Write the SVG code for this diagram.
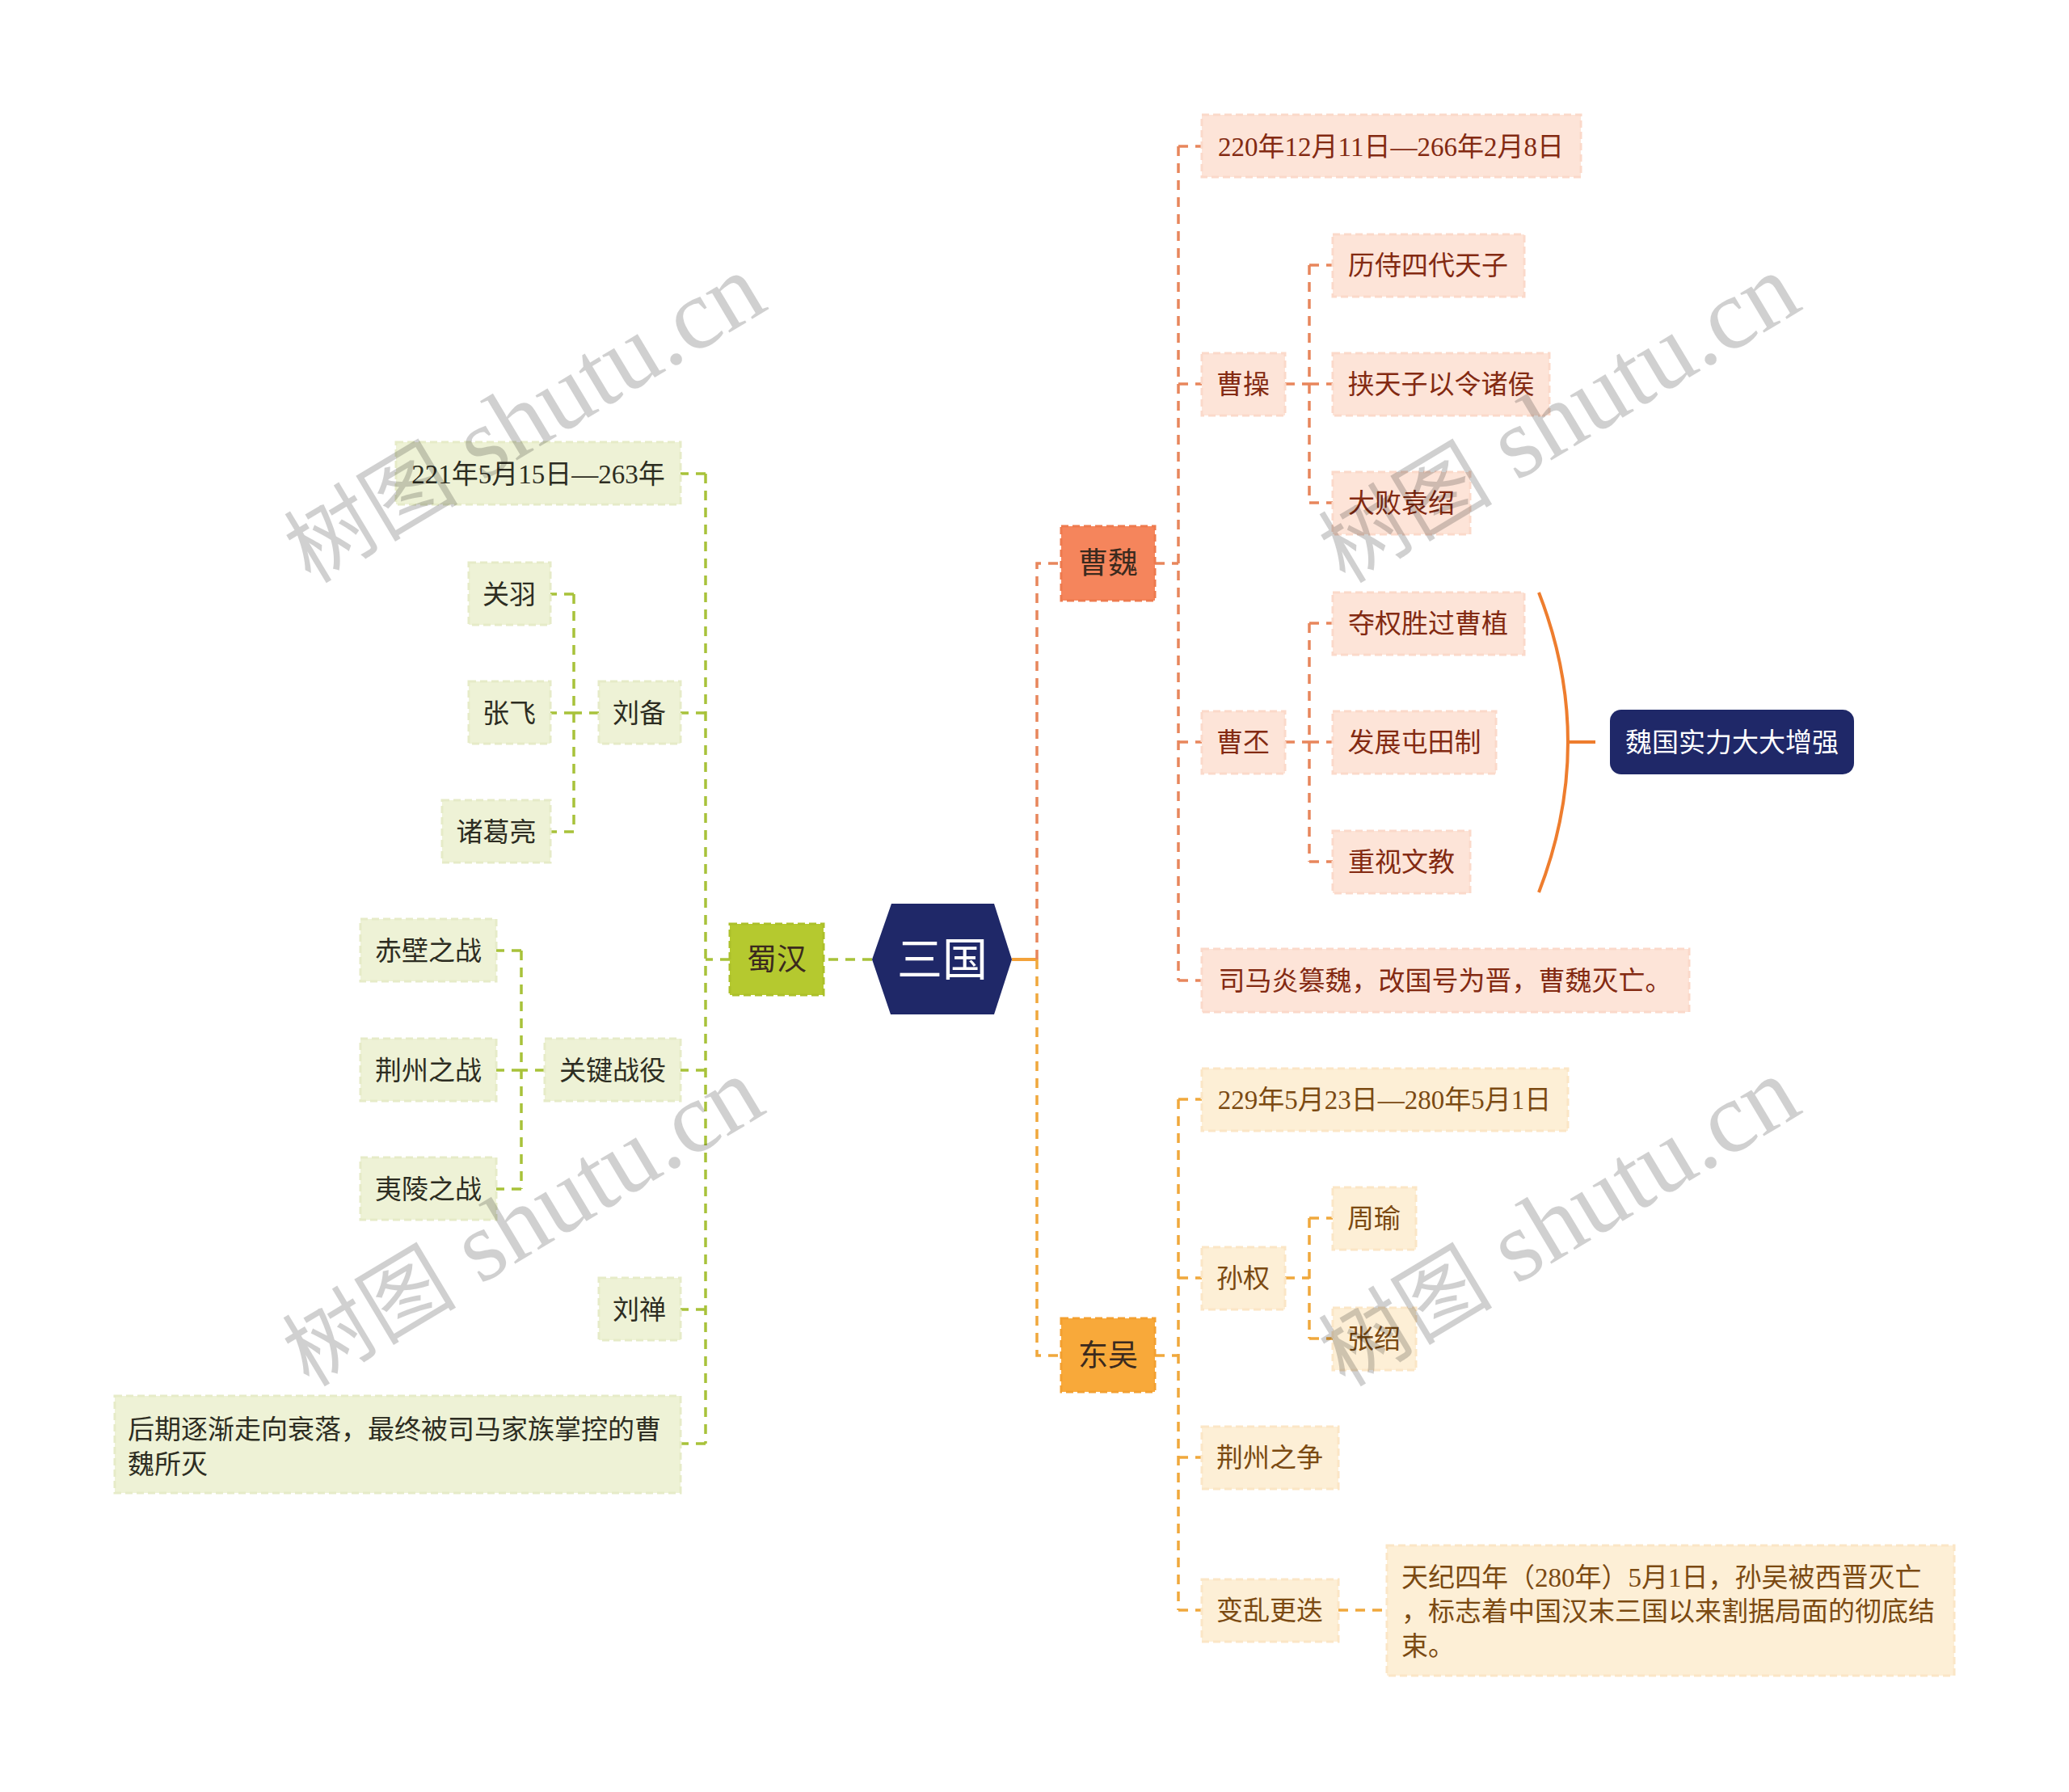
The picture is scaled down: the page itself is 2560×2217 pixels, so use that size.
<svg xmlns="http://www.w3.org/2000/svg" width="2560" height="2217" viewBox="0 0 2560 2217">
<style>
text{font-family:"Liberation Serif","Noto Sans CJK SC",sans-serif;font-size:33px}
.c{text-anchor:middle}
.wei rect{fill:#fde4d8;stroke:#fbd9ca;stroke-width:3;stroke-dasharray:9 5}
.wei text{fill:#832a12}
.wu rect{fill:#fdefd6;stroke:#fbe6c6;stroke-width:3;stroke-dasharray:9 5}
.wu text{fill:#7b4a12}
.shu rect{fill:#eef2d6;stroke:#e6ebc8;stroke-width:3;stroke-dasharray:9 5}
.shu text{fill:#2d2d22}
.l1 text{font-size:37px;fill:#3b2a1e}
.ln{fill:none;stroke-width:3.5;stroke-dasharray:12 9}
.wm{font-size:124px;fill:#000;opacity:0.18;text-anchor:middle}
</style>

<g id="connectors">
  <path d="M1252,1187 H1283" stroke="#f3a23a" stroke-width="4" fill="none"/>
  <path class="ln" stroke="#e8865c" d="M1283,1187 V697 H1313"/>
  <path class="ln" stroke="#f0a83c" d="M1283,1187 V1677 H1313"/>
  <path class="ln" stroke="#a8c23a" stroke-width="5" d="M1079,1187 H1019"/>
  <path class="ln" stroke="#e8865c" d="M1429,697 H1458 M1458,181 V1213 M1458,181 H1487 M1458,475 H1487 M1458,918 H1487 M1458,1213 H1487"/>
  <path class="ln" stroke="#e8865c" d="M1590,475 H1620 M1620,328 V622 M1620,328 H1649 M1620,475 H1649 M1620,622 H1649"/>
  <path class="ln" stroke="#e8865c" d="M1590,918 H1620 M1620,771 V1066 M1620,771 H1649 M1620,918 H1649 M1620,1066 H1649"/>
  <path d="M1904,733 Q1976,918 1904,1104 M1940,918 H1974" stroke="#ee7d2e" stroke-width="4" fill="none"/>
  <path class="ln" stroke="#f0a83c" d="M1429,1677 H1458 M1458,1360 V1992 M1458,1360 H1487 M1458,1581 H1487 M1458,1803 H1487 M1458,1992 H1487"/>
  <path class="ln" stroke="#f0a83c" d="M1590,1581 H1620 M1620,1507 V1656 M1620,1507 H1649 M1620,1656 H1649"/>
  <path class="ln" stroke="#f0a83c" d="M1656,1992 H1716"/>
  <path class="ln" stroke="#a8c23a" d="M903,1187 H873 M873,586 V1786 M873,586 H842 M873,882 H842 M873,1324 H842 M873,1620 H842 M873,1786 H842"/>
  <path class="ln" stroke="#a8c23a" d="M741,882 H710 M710,735 V1029 M710,735 H681 M710,882 H681 M710,1029 H681"/>
  <path class="ln" stroke="#a8c23a" d="M674,1324 H645 M645,1176 V1471 M645,1176 H614 M645,1324 H614 M645,1471 H614"/>
</g>

<g id="root">
  <polygon points="1103,1118 1230,1118 1252,1187 1230,1255 1102,1255 1079,1187" fill="#1f2868"/>
  <text class="c" x="1166" y="1207" style="font-size:56px;fill:#fff">三国</text>
</g>

<g id="n-caowei" class="wei l1">
  <rect x="1313" y="651" width="116" height="92" style="fill:#f5855c;stroke:#ee7a4e"/>
  <text class="c" x="1371" y="710">曹魏</text>
</g>
<g id="n-dongwu" class="wu l1">
  <rect x="1313" y="1631" width="116" height="91" style="fill:#f8a93a;stroke:#f3a030"/>
  <text class="c" x="1371" y="1690">东吴</text>
</g>
<g id="n-shuhan" class="shu l1">
  <rect x="903" y="1143" width="116" height="88" style="fill:#b5c92f;stroke:#acc02a"/>
  <text class="c" x="961" y="1200">蜀汉</text>
</g>

<g id="n-wei-date" class="wei"><rect x="1487" y="142" width="469" height="77"/><text class="c" x="1721" y="193">220年12月11日—266年2月8日</text></g>
<g id="n-caocao" class="wei"><rect x="1487" y="437" width="103" height="77"/><text class="c" x="1538" y="487">曹操</text></g>
<g id="n-caopi" class="wei"><rect x="1487" y="880" width="103" height="77"/><text class="c" x="1538" y="930">曹丕</text></g>
<g id="n-simayan" class="wei"><rect x="1487" y="1174" width="603" height="78"/><text class="c" x="1788" y="1225">司马炎篡魏，改国号为晋，曹魏灭亡。</text></g>
<g id="n-lishi" class="wei"><rect x="1649" y="290" width="237" height="77"/><text class="c" x="1767" y="340">历侍四代天子</text></g>
<g id="n-xie" class="wei"><rect x="1649" y="437" width="268" height="77"/><text class="c" x="1783" y="487">挟天子以令诸侯</text></g>
<g id="n-dabai" class="wei"><rect x="1649" y="584" width="170" height="77"/><text class="c" x="1734" y="634">大败袁绍</text></g>
<g id="n-duoquan" class="wei"><rect x="1649" y="733" width="237" height="77"/><text class="c" x="1767" y="783">夺权胜过曹植</text></g>
<g id="n-tuntian" class="wei"><rect x="1649" y="880" width="202" height="77"/><text class="c" x="1750" y="930">发展屯田制</text></g>
<g id="n-wenjiao" class="wei"><rect x="1649" y="1028" width="170" height="77"/><text class="c" x="1734" y="1078">重视文教</text></g>
<g id="n-weiguo">
  <rect x="1992" y="878" width="302" height="80" rx="14" fill="#1f2868"/>
  <text class="c" x="2143" y="930" style="fill:#fff">魏国实力大大增强</text>
</g>

<g id="n-wu-date" class="wu"><rect x="1487" y="1322" width="453" height="77"/><text class="c" x="1713" y="1372">229年5月23日—280年5月1日</text></g>
<g id="n-sunquan" class="wu"><rect x="1487" y="1543" width="103" height="77"/><text class="c" x="1538" y="1593">孙权</text></g>
<g id="n-jingzhou-zheng" class="wu"><rect x="1487" y="1765" width="169" height="77"/><text class="c" x="1571" y="1815">荆州之争</text></g>
<g id="n-bianluan" class="wu"><rect x="1487" y="1954" width="169" height="77"/><text class="c" x="1571" y="2004">变乱更迭</text></g>
<g id="n-zhouyu" class="wu"><rect x="1649" y="1469" width="103" height="77"/><text class="c" x="1700" y="1519">周瑜</text></g>
<g id="n-zhangshao" class="wu"><rect x="1649" y="1618" width="103" height="77"/><text class="c" x="1700" y="1668">张绍</text></g>
<g id="n-tianji" class="wu"><rect x="1716" y="1912" width="702" height="161"/>
  <text x="1734" y="1963">天纪四年（280年）5月1日，孙吴被西晋灭亡</text>
  <text x="1734" y="2005">，标志着中国汉末三国以来割据局面的彻底结</text>
  <text x="1734" y="2048">束。</text>
</g>

<g id="n-shu-date" class="shu"><rect x="490" y="547" width="352" height="77"/><text class="c" x="666" y="598">221年5月15日—263年</text></g>
<g id="n-liubei" class="shu"><rect x="741" y="843" width="101" height="77"/><text class="c" x="791" y="894">刘备</text></g>
<g id="n-zhanyi" class="shu"><rect x="674" y="1285" width="168" height="77"/><text class="c" x="758" y="1336">关键战役</text></g>
<g id="n-liushan" class="shu"><rect x="741" y="1581" width="101" height="77"/><text class="c" x="791" y="1632">刘禅</text></g>
<g id="n-houqi" class="shu"><rect x="142" y="1727" width="700" height="120"/>
  <text x="158" y="1780">后期逐渐走向衰落，最终被司马家族掌控的曹</text>
  <text x="158" y="1823">魏所灭</text>
</g>
<g id="n-guanyu" class="shu"><rect x="580" y="696" width="101" height="77"/><text class="c" x="630" y="747">关羽</text></g>
<g id="n-zhangfei" class="shu"><rect x="580" y="843" width="101" height="77"/><text class="c" x="630" y="894">张飞</text></g>
<g id="n-zhuge" class="shu"><rect x="547" y="990" width="134" height="77"/><text class="c" x="614" y="1041">诸葛亮</text></g>
<g id="n-chibi" class="shu"><rect x="446" y="1137" width="168" height="77"/><text class="c" x="530" y="1188">赤壁之战</text></g>
<g id="n-jingzhou" class="shu"><rect x="446" y="1285" width="168" height="77"/><text class="c" x="530" y="1336">荆州之战</text></g>
<g id="n-yiling" class="shu"><rect x="446" y="1432" width="168" height="77"/><text class="c" x="530" y="1483">夷陵之战</text></g>

<g id="watermarks">
  <text class="wm" transform="translate(647,516) rotate(-31)" y="42"><tspan style="font-size:108px">树图</tspan> shutu.cn</text>
  <text class="wm" transform="translate(1927,516) rotate(-31)" y="42"><tspan style="font-size:108px">树图</tspan> shutu.cn</text>
  <text class="wm" transform="translate(645,1510) rotate(-31)" y="42"><tspan style="font-size:108px">树图</tspan> shutu.cn</text>
  <text class="wm" transform="translate(1927,1510) rotate(-31)" y="42"><tspan style="font-size:108px">树图</tspan> shutu.cn</text>
</g>
</svg>
